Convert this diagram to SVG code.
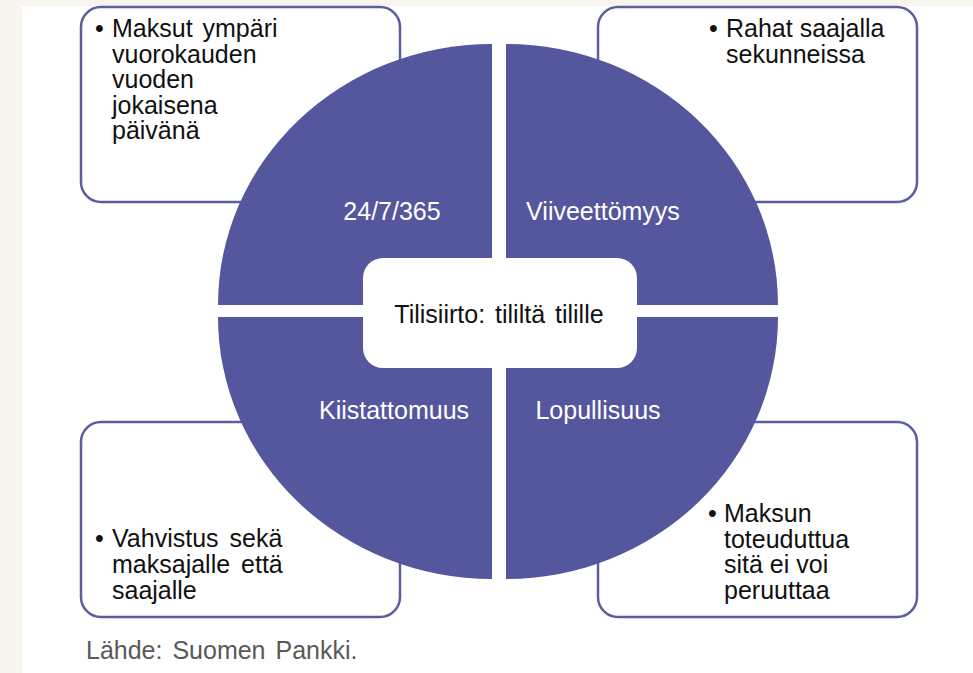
<svg xmlns="http://www.w3.org/2000/svg" width="973" height="673" viewBox="0 0 973 673">
  <style>
    .box { fill: #ffffff; stroke: #5b5d9d; stroke-width: 2.5; }
    .quad { fill: #54569e; }
    .body { font-family: "Liberation Sans", Arial, sans-serif; font-size: 25px; fill: #111111; }
    .label { font-family: "Liberation Sans", Arial, sans-serif; font-size: 25px; fill: #ffffff; text-anchor: middle; }
    .center { font-family: "Liberation Sans", Arial, sans-serif; font-size: 25px; fill: #111111; text-anchor: middle; }
    .src { font-family: "Liberation Sans", Arial, sans-serif; font-size: 25px; fill: #595959; }
  </style>
  <rect x="0" y="0" width="973" height="673" fill="#f8f4ee"/>
  <rect x="22" y="6" width="951" height="667" fill="#ffffff"/>

  <g id="box-tl">
    <rect class="box" x="81" y="7" width="319" height="195" rx="20" ry="20"/>
    <text class="body" x="95" y="37">•</text>
    <text class="body" word-spacing="3"><tspan x="112" y="37">Maksut ympäri</tspan><tspan x="112" y="62.5">vuorokauden</tspan><tspan x="112" y="88">vuoden</tspan><tspan x="112" y="113.5">jokaisena</tspan><tspan x="112" y="139">päivänä</tspan></text>
  </g>
  <g id="box-tr">
    <rect class="box" x="598" y="7" width="319" height="195" rx="20" ry="20"/>
    <text class="body" x="709" y="37">•</text>
    <text class="body"><tspan x="726" y="37">Rahat saajalla</tspan><tspan x="726" y="62.5">sekunneissa</tspan></text>
  </g>
  <g id="box-bl">
    <rect class="box" x="81" y="422" width="319" height="195" rx="20" ry="20"/>
    <text class="body" x="95" y="547">•</text>
    <text class="body" word-spacing="4"><tspan x="112" y="547">Vahvistus sekä</tspan><tspan x="112" y="573">maksajalle että</tspan><tspan x="112" y="599">saajalle</tspan></text>
  </g>
  <g id="box-br">
    <rect class="box" x="598" y="422" width="319" height="195" rx="20" ry="20"/>
    <text class="body" x="708" y="522">•</text>
    <text class="body"><tspan x="724" y="522">Maksun</tspan><tspan x="724" y="547.5">toteuduttua</tspan><tspan x="724" y="573">sitä ei voi</tspan><tspan x="724" y="598.5">peruuttaa</tspan></text>
  </g>

  <g id="quad-tl">
    <path class="quad" d="M492,305 L218,305 A274,261 0 0 1 492,44 Z"/>
    <text class="label" x="392" y="220">24/7/365</text>
  </g>
  <g id="quad-tr">
    <path class="quad" d="M506,305 L506,44 A272,261 0 0 1 778,305 Z"/>
    <text class="label" x="603" y="220">Viiveettömyys</text>
  </g>
  <g id="quad-bl">
    <path class="quad" d="M492,317 L492,579 A274,262 0 0 1 218,317 Z"/>
    <text class="label" x="394" y="419">Kiistattomuus</text>
  </g>
  <g id="quad-br">
    <path class="quad" d="M506,317 L778,317 A272,262 0 0 1 506,579 Z"/>
    <text class="label" x="598" y="419">Lopullisuus</text>
  </g>

  <g id="center">
    <rect x="363" y="258" width="274" height="110" rx="20" ry="20" fill="#ffffff"/>
    <text class="center" x="499" y="323" word-spacing="3">Tilisiirto: tililtä tilille</text>
  </g>

  <g id="connectors"></g>

  <text class="src" x="86" y="659" word-spacing="3">Lähde: Suomen Pankki.</text>
</svg>
